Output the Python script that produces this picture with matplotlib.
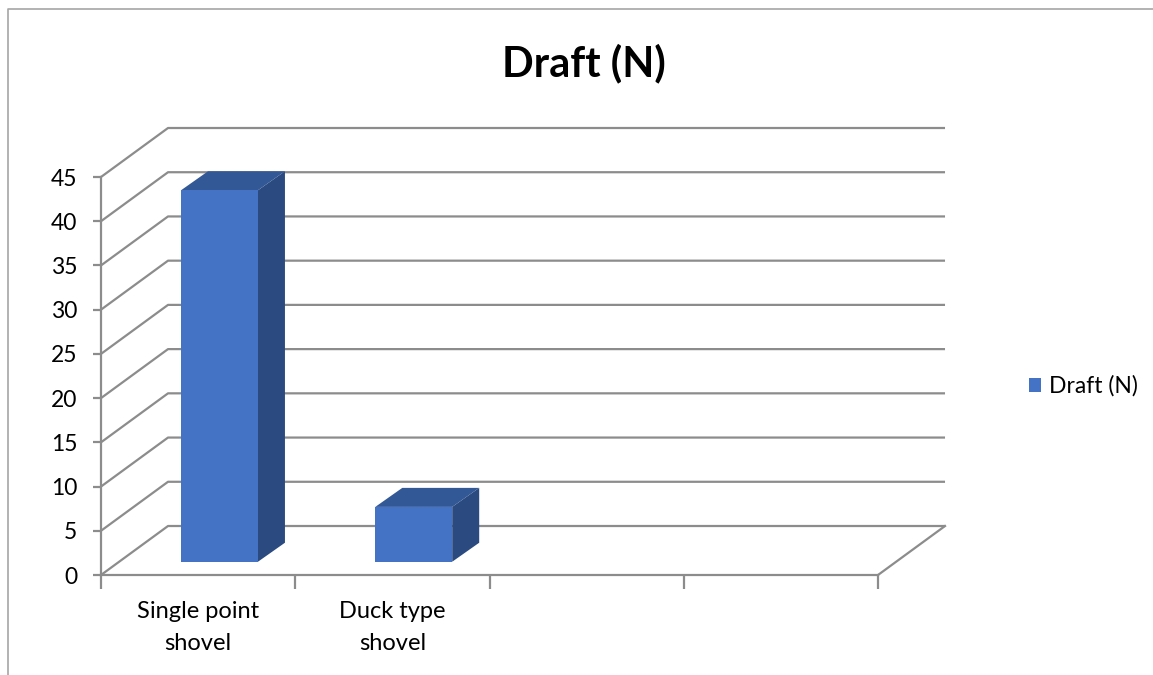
import matplotlib
matplotlib.use('Agg')
import matplotlib.pyplot as plt
from matplotlib.patches import Polygon, Patch
from matplotlib.lines import Line2D
import numpy as np

plt.rcParams['font.family'] = ['Lato', 'DejaVu Sans']

categories = ['Single point\nshovel', 'Duck type\nshovel']
values = [42, 6.2]
n_slots = 4            # excel left room for 4 categories
y_ticks = list(range(0, 50, 5))
series_name = 'Draft (N)'
title = 'Draft (N)'

front_col = '#4472C4'
top_col = '#335896'
side_col = '#2A4A80'
grid_col = '#8C8C8C'

W, H = 1153, 675
fig = plt.figure(figsize=(W / 100, H / 100), dpi=100)

# front plane of the 3d box
ax = fig.add_axes([101 / W, (H - 575) / H, 777 / W, 398 / H])
ax.set_xlim(0, n_slots)
ax.set_ylim(0, 45)

# depth offsets in data units (back wall, bar front, bar depth)
wall_dx, wall_dy = 0.345, 5.54
bar_ox, bar_oy = 0.11, 1.5
bar_ddx, bar_ddy = 0.139, 2.15
half_w = 0.198

for lvl in y_ticks:
    ax.plot([0, wall_dx, n_slots + wall_dx], [lvl, lvl + wall_dy, lvl + wall_dy],
            color=grid_col, lw=1.6, clip_on=False, zorder=1, solid_capstyle='butt')
ax.plot([n_slots, n_slots + wall_dx], [0, wall_dy], color=grid_col, lw=1.6,
        clip_on=False, zorder=1)

for i, v in enumerate(values):
    c = i + 0.5
    x0, x1 = c - half_w + bar_ox, c + half_w + bar_ox
    yb, yt = bar_oy, bar_oy + v
    front = Polygon([(x0, yb), (x1, yb), (x1, yt), (x0, yt)], closed=True,
                    facecolor=front_col, edgecolor='none', zorder=3, clip_on=False)
    top = Polygon([(x0, yt), (x1, yt), (x1 + bar_ddx, yt + bar_ddy), (x0 + bar_ddx, yt + bar_ddy)],
                  closed=True, facecolor=top_col, edgecolor='none', zorder=3, clip_on=False)
    side = Polygon([(x1, yb), (x1, yt), (x1 + bar_ddx, yt + bar_ddy), (x1 + bar_ddx, yb + bar_ddy)],
                   closed=True, facecolor=side_col, edgecolor='none', zorder=3, clip_on=False)
    for p in (side, top, front):
        ax.add_patch(p)

for s in ['top', 'right']:
    ax.spines[s].set_visible(False)
for s in ['left', 'bottom']:
    ax.spines[s].set_color(grid_col)
    ax.spines[s].set_linewidth(1.6)
    ax.spines[s].set_zorder(2)

ax.set_yticks(y_ticks)
ax.tick_params(axis='y', direction='out', length=6, width=1.6, color=grid_col,
               labelsize=16.5, pad=11, labelcolor='black')
ax.set_xticks(range(n_slots + 1))
ax.set_xticklabels([])
ax.set_xticks([i + 0.5 for i in range(len(categories))], minor=True)
ax.set_xticklabels(categories, minor=True, fontsize=17, linespacing=1.6)
ax.tick_params(axis='x', which='major', direction='out', length=10, width=1.6, color=grid_col)
ax.tick_params(axis='x', which='minor', length=0, pad=19)

ax.patch.set_visible(False)

fig.text(584 / W, 1 - 63 / H, title, ha='center', va='center', fontsize=30,
         fontweight='bold')

fig.legend(handles=[Patch(facecolor=front_col, label=series_name)], loc='center left',
           bbox_to_anchor=(1008 / W, 1 - 386 / H), frameon=False, fontsize=16.5,
           handlelength=0.55, handleheight=0.55, handletextpad=0.35)

# chart area border
fig.add_artist(Line2D([8 / W, 8 / W, 1.0], [0, 1 - 9 / H, 1 - 9 / H],
                      color='#A6A6A6', lw=1.2, transform=fig.transFigure))

fig.savefig('out.png', dpi=100)
